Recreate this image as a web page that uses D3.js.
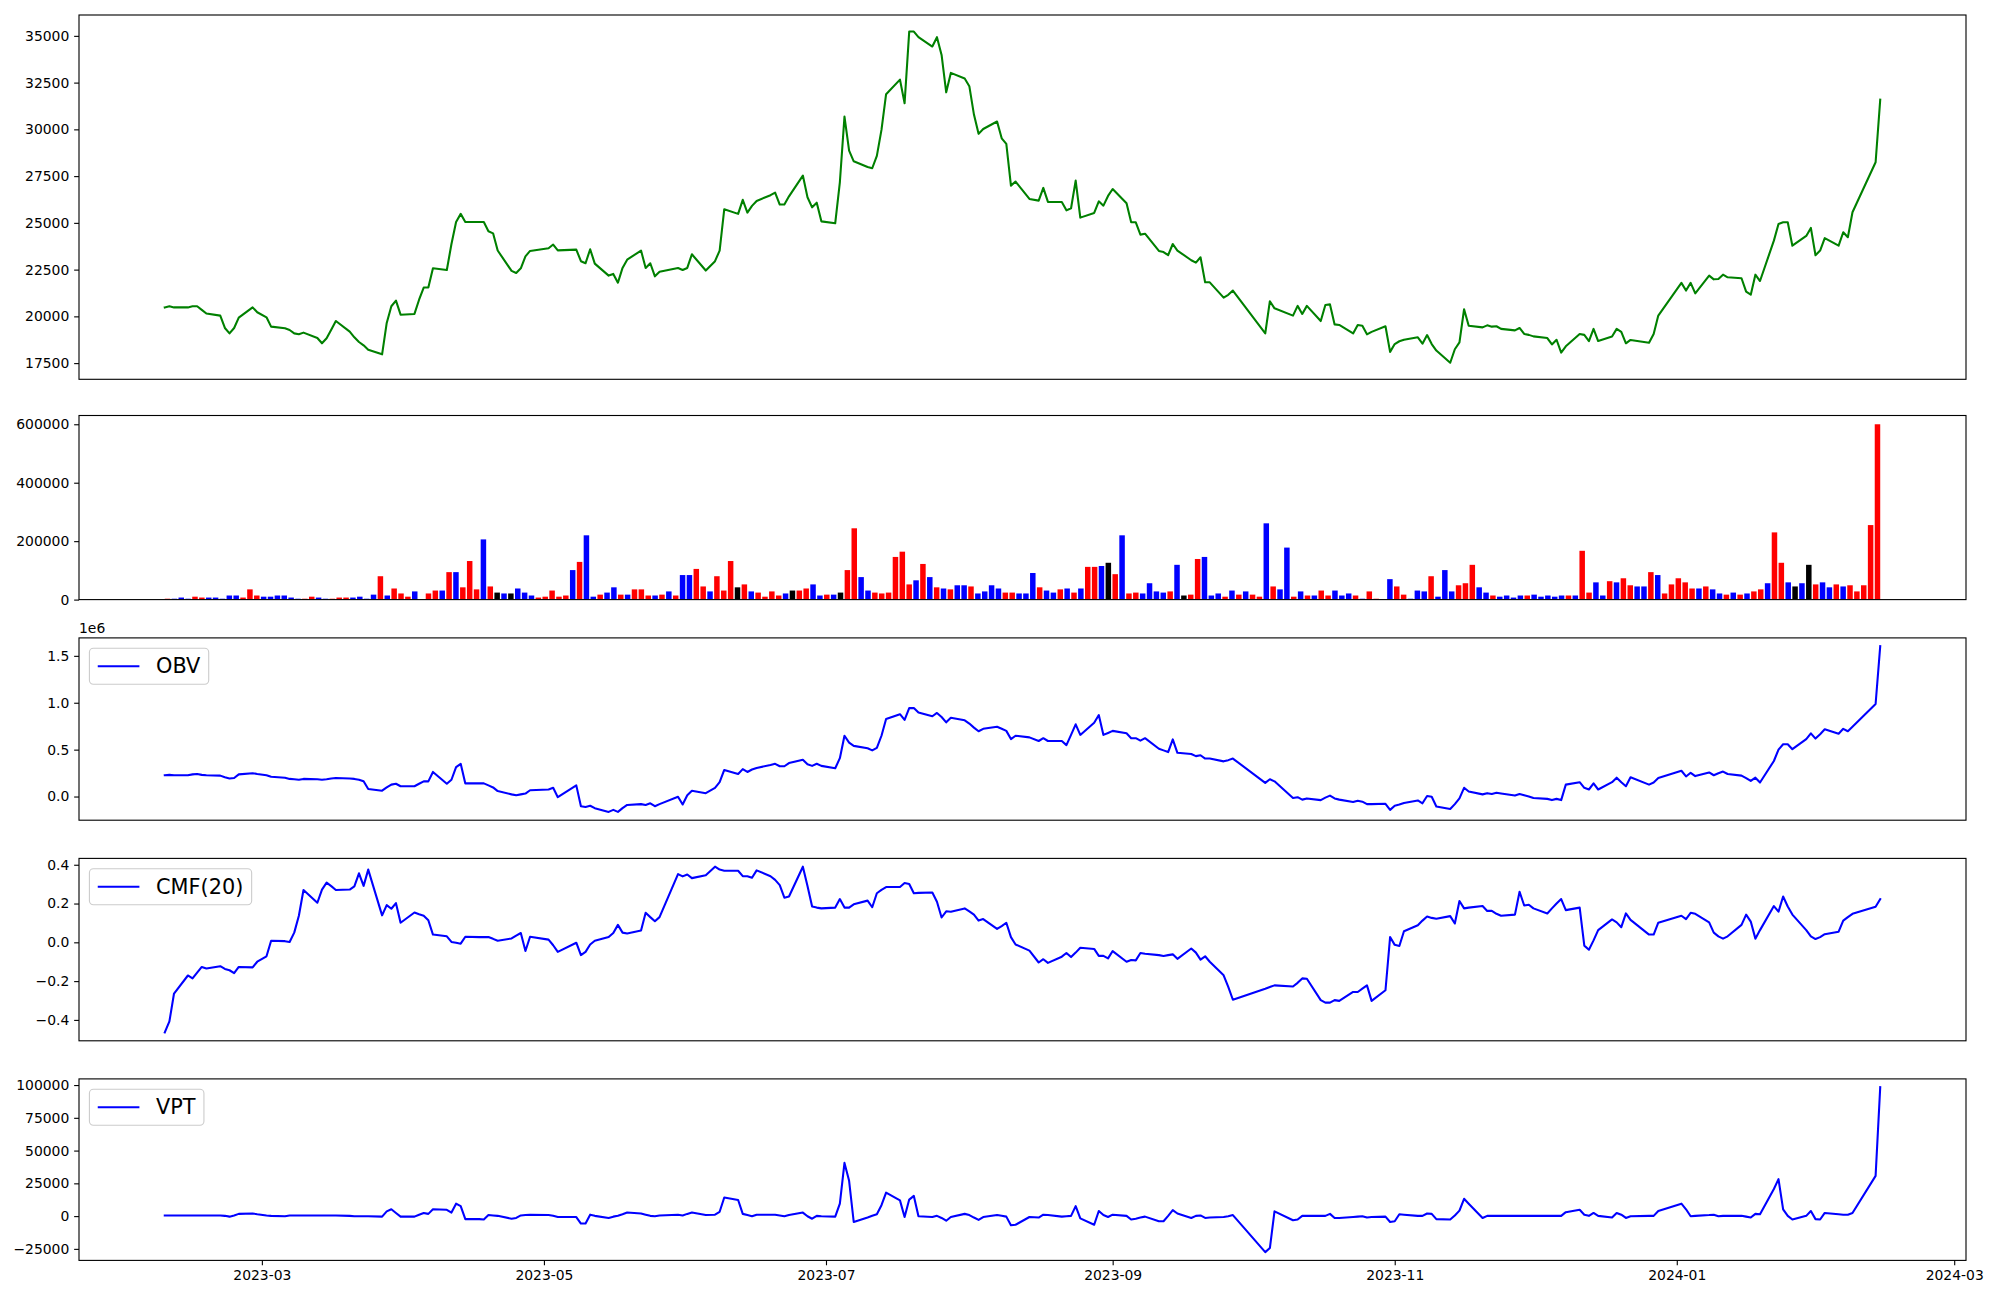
<!DOCTYPE html>
<html>
<head>
<meta charset="utf-8">
<script src="https://cdn.jsdelivr.net/npm/d3@7"></script>
<style>
  html, body { margin: 0; padding: 0; background: #ffffff; }
  svg { display: block; background: #ffffff; }
</style>
</head>
<body>
<svg id="chart" width="2000" height="1300"></svg>
<script>
// ---------------- data ----------------
const dates = [
"2023-02-08","2023-02-09","2023-02-10","2023-02-13","2023-02-14","2023-02-15","2023-02-16","2023-02-17","2023-02-20","2023-02-21","2023-02-22","2023-02-23","2023-02-24","2023-02-27","2023-02-28",
"2023-03-02","2023-03-03","2023-03-06","2023-03-07","2023-03-08","2023-03-09","2023-03-10","2023-03-13","2023-03-14","2023-03-15","2023-03-16","2023-03-17","2023-03-20","2023-03-21","2023-03-22","2023-03-23","2023-03-24","2023-03-27","2023-03-28","2023-03-29","2023-03-30","2023-03-31",
"2023-04-03","2023-04-04","2023-04-05","2023-04-06","2023-04-07","2023-04-10","2023-04-11","2023-04-12","2023-04-13","2023-04-14","2023-04-17","2023-04-18","2023-04-19","2023-04-20","2023-04-21","2023-04-24","2023-04-25","2023-04-26","2023-04-27","2023-04-28",
"2023-05-02","2023-05-03","2023-05-04","2023-05-08","2023-05-09","2023-05-10","2023-05-11","2023-05-12","2023-05-15","2023-05-16","2023-05-17","2023-05-18","2023-05-19","2023-05-22","2023-05-23","2023-05-24","2023-05-25","2023-05-26","2023-05-30","2023-05-31",
"2023-06-01","2023-06-02","2023-06-05","2023-06-07","2023-06-08","2023-06-09","2023-06-12","2023-06-13","2023-06-14","2023-06-15","2023-06-16","2023-06-19","2023-06-20","2023-06-21","2023-06-22","2023-06-23","2023-06-26","2023-06-27","2023-06-28","2023-06-29","2023-06-30",
"2023-07-03","2023-07-04","2023-07-05","2023-07-06","2023-07-07","2023-07-10","2023-07-11","2023-07-12","2023-07-13","2023-07-14","2023-07-17","2023-07-18","2023-07-19","2023-07-20","2023-07-21","2023-07-24","2023-07-25","2023-07-26","2023-07-27","2023-07-28","2023-07-31",
"2023-08-01","2023-08-02","2023-08-03","2023-08-04","2023-08-07","2023-08-08","2023-08-09","2023-08-10","2023-08-11","2023-08-14","2023-08-16","2023-08-17","2023-08-18","2023-08-21","2023-08-22","2023-08-23","2023-08-24","2023-08-25","2023-08-28","2023-08-29","2023-08-30","2023-08-31",
"2023-09-01","2023-09-04","2023-09-05","2023-09-06","2023-09-07","2023-09-08","2023-09-11","2023-09-12","2023-09-13","2023-09-14","2023-09-15","2023-09-18","2023-09-19","2023-09-20","2023-09-21","2023-09-22","2023-09-25","2023-09-26","2023-09-27",
"2023-10-04","2023-10-05","2023-10-06","2023-10-10","2023-10-11","2023-10-12","2023-10-13","2023-10-16","2023-10-17","2023-10-18","2023-10-19","2023-10-20","2023-10-23","2023-10-24","2023-10-25","2023-10-26","2023-10-27","2023-10-30","2023-10-31",
"2023-11-01","2023-11-02","2023-11-03","2023-11-06","2023-11-07","2023-11-08","2023-11-09","2023-11-10","2023-11-13","2023-11-14","2023-11-15","2023-11-16","2023-11-17","2023-11-20","2023-11-21","2023-11-22","2023-11-23","2023-11-24","2023-11-27","2023-11-28","2023-11-29","2023-11-30",
"2023-12-01","2023-12-04","2023-12-05","2023-12-06","2023-12-07","2023-12-08","2023-12-11","2023-12-12","2023-12-13","2023-12-14","2023-12-15","2023-12-18","2023-12-19","2023-12-20","2023-12-21","2023-12-22","2023-12-26","2023-12-27","2023-12-28",
"2024-01-02","2024-01-03","2024-01-04","2024-01-05","2024-01-08","2024-01-09","2024-01-10","2024-01-11","2024-01-12","2024-01-15","2024-01-16","2024-01-17","2024-01-18","2024-01-19","2024-01-22","2024-01-23","2024-01-24","2024-01-25","2024-01-26","2024-01-29","2024-01-30","2024-01-31",
"2024-02-01","2024-02-02","2024-02-05","2024-02-06","2024-02-07","2024-02-08","2024-02-13","2024-02-14"
];

const closePrice = [
20480,20540,20480,20480,20540,20540,20350,20150,20040,19380,19090,19380,19930,20480,20220,
19950,19450,19360,19270,19090,19040,19130,18840,18560,18830,19290,19750,19180,18880,18630,18450,18220,17970,19650,20540,20840,20090,
20130,20890,21540,21540,22570,22480,23870,25050,25480,25050,25050,25050,24550,24440,23520,22430,22320,22570,23210,23500,
23640,23840,23530,23570,22950,22840,23590,22820,22180,22270,21800,22590,23030,23520,22590,22840,22140,22390,22590,22480,
22590,23320,22450,22950,23520,25730,25480,26230,25550,25910,26170,26480,26620,25980,25980,26420,27530,26370,25830,26080,25080,
24980,27170,30680,28860,28290,27990,27920,28580,29970,31880,32660,31400,35230,35230,34930,34430,34930,33980,31980,33020,32720,
32310,30790,29760,30020,30420,29520,29220,26990,27210,26280,26190,26870,26120,26120,25670,25780,27260,25280,25530,26150,25920,26440,
26810,26050,25030,25030,24370,24420,23500,23440,23270,23870,23520,23000,22870,23160,21820,21820,21000,21150,21380,
19090,20810,20430,20040,20560,20130,20560,19750,20610,20640,19570,19540,19090,19540,19500,19040,19170,19470,18100,
18520,18670,18750,18880,18540,19000,18520,18170,17520,18240,18610,20380,19500,19410,19520,19450,19470,19330,19250,19380,19060,19010,
18930,18840,18500,18750,18060,18400,19060,19010,18680,19330,18680,18920,19330,19170,18560,18740,18590,19060,20040,
21790,21380,21790,21230,22180,21980,22000,22230,22090,22040,21320,21160,22230,21890,24050,24940,25030,25030,23780,24300,24730,23270,
23520,24180,23780,24500,24230,25570,28240,31590
];

const volume = [
3000,3000,7000,3000,10000,7000,7000,7000,3000,14000,14000,7000,35000,14000,10000,
10000,14000,14000,7000,3000,3000,10000,7000,3000,3000,7000,7000,7000,10000,3000,17000,80000,14000,38000,21000,10000,28000,
0,21000,31000,31000,94000,94000,42000,132000,35000,206000,45000,24000,21000,21000,38000,24000,14000,7000,10000,31000,
10000,14000,101000,129000,220000,10000,17000,24000,42000,17000,17000,35000,35000,14000,14000,17000,28000,14000,84000,84000,
105000,45000,28000,80000,31000,132000,42000,52000,28000,24000,10000,28000,14000,21000,31000,31000,38000,52000,14000,17000,17000,
24000,101000,244000,77000,31000,24000,21000,24000,146000,164000,52000,66000,122000,77000,42000,38000,35000,49000,49000,45000,21000,
28000,49000,38000,24000,24000,21000,21000,91000,42000,31000,24000,35000,38000,24000,38000,112000,112000,115000,126000,87000,220000,21000,
24000,21000,56000,28000,24000,28000,119000,14000,17000,139000,146000,14000,21000,10000,31000,17000,28000,17000,10000,
261000,45000,35000,178000,10000,28000,14000,14000,31000,14000,31000,14000,21000,14000,3000,28000,3000,0,70000,
45000,17000,3000,31000,28000,80000,10000,101000,28000,49000,56000,119000,42000,24000,14000,10000,14000,7000,14000,14000,17000,10000,
14000,10000,14000,14000,14000,167000,24000,59000,14000,63000,59000,73000,49000,45000,45000,94000,84000,21000,52000,
73000,59000,38000,38000,45000,35000,21000,17000,24000,17000,21000,28000,35000,56000,230000,126000,59000,45000,56000,119000,52000,59000,
42000,52000,45000,49000,28000,49000,255000,600000
];

// bar colour codes per month: r = red, b = blue, k = black
const volumeColorCodes = [
"rbbbrrbbbbbrrrb",
"bbbbbrrbbrrrbbbbrbrrrb",
"rrrbrbrrrbrkbkbbbrrr",
"rrbrbbrbbrbrrrbrbrbb",
"rrbrrrkrbrrrrbkrrbbrb",
"krrbbrrrrrrbrbrbrbbrb",
"bbbrrbbbrbbrbrbrrbkrbr",
"rbbbbrbkrrbbbrbrbrr",
"brbbrbrbrrbbbrbrrbb",
"rrbbbrbbbrrrbbrbbbbrbb",
"bbbrbrrbbrbrrbbrbrr",
"rrrbrbbrbrbrrbrrbkbkrb",
"brbrrrrr"
].join("");

const obvMillions = [
0.227,0.231,0.227,0.227,0.236,0.240,0.231,0.227,0.223,0.205,0.192,0.197,0.236,0.249,0.240,
0.227,0.210,0.201,0.188,0.184,0.179,0.188,0.184,0.179,0.184,0.192,0.197,0.192,0.188,0.179,0.162,0.080,0.062,0.097,0.127,0.136,0.110,
0.110,0.136,0.162,0.162,0.262,0.136,0.179,0.314,0.349,0.140,0.140,0.140,0.119,0.097,0.058,0.023,0.014,0.023,0.032,0.067,
0.075,0.093,-0.007,0.119,-0.103,-0.111,-0.098,-0.124,-0.164,-0.142,-0.164,-0.124,-0.090,-0.081,-0.090,-0.072,-0.103,-0.081,-0.003,-0.085,
0.014,0.062,0.036,0.093,0.153,0.283,0.240,0.292,0.262,0.288,0.305,0.336,0.349,0.323,0.323,0.357,0.392,0.344,0.327,0.349,0.327,
0.301,0.409,0.648,0.574,0.540,0.514,0.492,0.518,0.648,0.826,0.878,0.817,0.943,0.943,0.895,0.856,0.891,0.848,0.791,0.839,0.813,
0.778,0.735,0.696,0.722,0.744,0.722,0.700,0.613,0.648,0.631,0.592,0.622,0.592,0.592,0.548,0.657,0.770,0.657,0.787,0.869,0.657,0.678,
0.700,0.674,0.622,0.622,0.596,0.622,0.509,0.492,0.474,0.609,0.466,0.453,0.431,0.440,0.405,0.405,0.375,0.388,0.405,
0.145,0.184,0.162,-0.016,-0.007,-0.033,-0.020,-0.038,-0.012,0.010,-0.020,-0.033,-0.059,-0.046,-0.055,-0.081,-0.081,-0.077,-0.142,
-0.098,-0.085,-0.068,-0.042,-0.072,0.006,-0.003,-0.107,-0.133,-0.081,-0.020,0.093,0.053,0.023,0.036,0.027,0.040,0.032,0.010,0.027,0.014,0.001,
-0.016,-0.025,-0.038,-0.025,-0.038,0.127,0.153,0.093,0.075,0.140,0.075,0.153,0.201,0.153,0.110,0.205,0.127,0.149,0.197,
0.275,0.214,0.253,0.218,0.257,0.227,0.249,0.266,0.240,0.223,0.197,0.166,0.201,0.149,0.379,0.500,0.557,0.557,0.505,0.613,0.674,0.618,
0.665,0.717,0.670,0.722,0.696,0.743,0.987,1.603
];

const cmf20 = [
-0.465,-0.408,-0.264,-0.171,-0.186,-0.156,-0.127,-0.135,-0.123,-0.137,-0.144,-0.159,-0.127,-0.129,-0.100,
-0.072,0.008,0.006,0.002,0.050,0.137,0.270,0.204,0.272,0.308,0.290,0.270,0.272,0.289,0.356,0.291,0.375,0.139,0.192,0.173,0.202,0.101,
0.154,0.145,0.137,0.114,0.040,0.031,0.002,-0.002,-0.007,0.029,0.027,0.027,0.027,0.018,0.008,0.020,0.035,0.048,-0.045,0.029,
0.014,-0.015,-0.049,-0.002,-0.066,-0.049,-0.011,0.008,0.027,0.048,0.090,0.050,0.046,0.061,0.152,0.130,0.109,0.130,0.352,0.340,
0.350,0.331,0.346,0.390,0.375,0.369,0.369,0.341,0.341,0.333,0.371,0.341,0.322,0.295,0.230,0.236,0.390,0.290,0.185,0.179,0.175,
0.179,0.223,0.179,0.179,0.196,0.215,0.181,0.253,0.270,0.285,0.285,0.306,0.301,0.253,0.255,0.257,0.209,0.128,0.160,0.158,0.175,
0.160,0.143,0.112,0.120,0.069,0.084,0.101,0.027,-0.011,-0.043,-0.104,-0.087,-0.106,-0.074,-0.055,-0.076,-0.053,-0.028,-0.034,-0.070,-0.070,-0.083,
-0.045,-0.100,-0.091,-0.093,-0.055,-0.059,-0.066,-0.070,-0.066,-0.062,-0.085,-0.032,-0.053,-0.089,-0.072,-0.100,-0.170,-0.230,-0.296,
-0.239,-0.230,-0.222,-0.228,-0.209,-0.186,-0.188,-0.298,-0.311,-0.311,-0.298,-0.302,-0.256,-0.256,-0.239,-0.222,-0.302,-0.247,0.027,
-0.013,-0.019,0.057,0.088,0.112,0.133,0.126,0.122,0.135,0.097,0.213,0.175,0.179,0.187,0.162,0.162,0.147,0.137,0.143,0.261,0.190,0.194,
0.175,0.149,0.175,0.200,0.223,0.166,0.179,-0.017,-0.038,0.010,0.063,0.118,0.103,0.078,0.149,0.116,0.040,0.040,0.101,
0.137,0.120,0.152,0.147,0.103,0.050,0.031,0.019,0.031,0.090,0.143,0.107,0.019,0.063,0.187,0.158,0.236,0.185,0.143,0.063,0.031,0.017,
0.027,0.042,0.055,0.112,0.130,0.147,0.183,0.223
];

const vpt = [
500,500,500,500,500,500,500,500,500,200,-400,500,1700,2000,1400,
500,200,-100,500,500,500,500,500,500,500,500,500,200,-100,-100,-100,-100,-400,3600,5200,2400,-400,
-400,1100,2400,1700,5200,4800,2700,9500,7600,-2300,-2300,-2600,800,500,200,-2000,-1400,500,800,1100,
800,200,-700,-700,-5700,-5700,1100,200,-1400,-400,200,1400,2700,2000,1100,200,-100,500,1100,500,
1700,2700,800,1100,3300,14200,12300,1700,800,-100,1100,1100,1100,500,-100,800,2700,-100,-2000,200,-100,
-400,9500,40600,26900,-4500,-1100,200,1400,8300,17900,12000,-700,12600,15400,-100,-700,200,-1400,-3500,-700,1700,
800,-1100,-2900,-700,800,200,-400,-7000,-6600,-700,-1100,1100,800,-400,-100,200,7600,-1700,-6600,3900,800,-700,
1100,200,-2600,-2000,-1100,-400,-3900,-3900,200,4500,2000,-1400,200,500,-1400,-1100,-700,-100,800,
-27500,-24400,3600,-3200,-2600,200,200,200,200,1700,-1400,-1400,-700,-400,-100,-1100,-700,-400,-4500,
-3900,1400,1100,200,200,2000,1700,-2300,-2600,500,4200,13200,9500,-1400,200,200,200,200,200,200,200,200,
200,200,200,200,200,3000,4800,1100,200,2400,200,-1100,2400,1100,-1400,-100,200,200,3900,
9500,5200,-100,200,800,1100,-100,200,200,200,-400,-1100,1700,1400,20700,28200,5200,200,-2600,200,3900,-2300,
-2600,2400,1400,1100,1100,2400,30700,98400
];

const priceTicks = [17500, 20000, 22500, 25000, 27500, 30000, 32500, 35000];
const volumeTicks = [0, 200000, 400000, 600000];
const obvTicks = [0.0, 0.5, 1.0, 1.5];
const cmfTicks = [-0.4, -0.2, 0.0, 0.2, 0.4];
const vptTicks = [-25000, 0, 25000, 50000, 75000, 100000];
const legendLabels = ["OBV", "CMF(20)", "VPT"];

// ---------------- layout ----------------
const svg = d3.select("#chart");
const L = 79, R = 1966;
const panels = [
  { top: 15.0,   bottom: 379.3 },
  { top: 415.5,  bottom: 599.6 },
  { top: 637.9,  bottom: 820.2 },
  { top: 858.4,  bottom: 1040.8 },
  { top: 1078.9, bottom: 1260.4 }
];
const FONT = "'DejaVu Sans', 'Liberation Sans', sans-serif";
const tickLen = 4.86, tickPad = 4.86, tickFont = 13.9, spineW = 1.11, lineW = 2.08;
const minus = s => String(s).replace(/-/g, "\u2212");

svg.append("rect").attr("width", 2000).attr("height", 1300).attr("fill", "#ffffff");

const parse = d3.utcParse("%Y-%m-%d");
const t = dates.map(parse);
const span = t[t.length - 1] - t[0];
const x = d3.scaleUtc()
  .domain([new Date(+t[0] - 0.05 * span), new Date(+t[t.length - 1] + 0.05 * span)])
  .range([L, R]);

// the volume bars are placed by trading-day index (evenly spaced), width 0.8
const n = volume.length;
const barWidth = 0.8;
const idxSpan = (n - 1) + barWidth;
const xi = d3.scaleLinear()
  .domain([-barWidth / 2 - 0.05 * idxSpan, (n - 1) + barWidth / 2 + 0.05 * idxSpan])
  .range([L, R]);

function padded(vals, zeroBase) {
  const [a, b] = d3.extent(vals);
  if (zeroBase) return [0, b * 1.05];
  const r = b - a;
  return [a - 0.05 * r, b + 0.05 * r];
}

function makePanel(i, domain, ticks, fmt) {
  const p = panels[i];
  const y = d3.scaleLinear().domain(domain).range([p.bottom, p.top]);
  const clipId = "clip" + i;
  svg.append("clipPath").attr("id", clipId)
    .append("rect").attr("x", L).attr("y", p.top).attr("width", R - L).attr("height", p.bottom - p.top);
  const plot = svg.append("g").attr("clip-path", `url(#${clipId})`);
  const ax = svg.append("g").attr("transform", `translate(${L},0)`)
    .call(d3.axisLeft(y).tickValues(ticks).tickFormat(fmt).tickSize(tickLen).tickPadding(tickPad).tickSizeOuter(0));
  ax.select(".domain").remove();
  ax.selectAll(".tick line").attr("stroke", "#000").attr("stroke-width", spineW);
  ax.selectAll(".tick text").attr("font-size", tickFont).attr("font-family", FONT).attr("fill", "#000");
  return { p, y, plot };
}

function frame(panel) {
  svg.append("rect")
    .attr("x", L).attr("y", panel.p.top)
    .attr("width", R - L).attr("height", panel.p.bottom - panel.p.top)
    .attr("fill", "none").attr("stroke", "#000").attr("stroke-width", spineW);
}

function drawLine(panel, values, color) {
  const line = d3.line().x((d, i) => x(t[i])).y(d => panel.y(d));
  panel.plot.append("path").datum(values)
    .attr("d", line).attr("fill", "none").attr("stroke", color)
    .attr("stroke-width", lineW).attr("stroke-linejoin", "round").attr("stroke-linecap", "square");
}

function legend(panel, label) {
  const fs = 20.83, pad = 0.4 * fs, handle = 2.0 * fs, gap = 0.8 * fs, axPad = 0.5 * fs;
  const bx = L + axPad, by = panel.p.top + axPad, bh = 36;
  const g = svg.append("g");
  const box = g.append("rect").attr("x", bx).attr("y", by).attr("height", bh)
    .attr("rx", 4).attr("ry", 4)
    .attr("fill", "#ffffff").attr("fill-opacity", 0.8)
    .attr("stroke", "#cccccc").attr("stroke-width", spineW);
  g.append("line")
    .attr("x1", bx + pad).attr("x2", bx + pad + handle)
    .attr("y1", by + bh / 2).attr("y2", by + bh / 2)
    .attr("stroke", "#0000ff").attr("stroke-width", lineW);
  const txt = g.append("text")
    .attr("x", bx + pad + handle + gap).attr("y", by + bh / 2)
    .attr("dominant-baseline", "central")
    .attr("font-size", fs).attr("font-family", FONT).attr("fill", "#000")
    .text(label);
  const tw = txt.node().getComputedTextLength();
  box.attr("width", pad + handle + gap + tw + pad);
}

// ---------------- panel 1: price ----------------
const p1 = makePanel(0, padded(closePrice), priceTicks, d => String(d));
drawLine(p1, closePrice, "#008000");
frame(p1);

// ---------------- panel 2: volume bars ----------------
const p2 = makePanel(1, padded(volume, true), volumeTicks, d => String(d));
const colorMap = { r: "#ff0000", b: "#0000ff", k: "#000000" };
const bw = xi(barWidth) - xi(0);
p2.plot.selectAll("rect.bar").data(volume).enter().append("rect")
  .attr("class", "bar")
  .attr("x", (v, i) => xi(i - barWidth / 2))
  .attr("width", bw)
  .attr("y", v => p2.y(v))
  .attr("height", v => p2.y(0) - p2.y(v))
  .attr("fill", (v, i) => colorMap[volumeColorCodes[i]]);
frame(p2);

// ---------------- panel 3: OBV ----------------
const p3 = makePanel(2, padded(obvMillions), obvTicks, d => d3.format(".1f")(d));
drawLine(p3, obvMillions, "#0000ff");
frame(p3);
svg.append("text").attr("x", L).attr("y", p3.p.top - 5)
  .attr("font-size", tickFont).attr("font-family", FONT).attr("fill", "#000").text("1e6");
legend(p3, legendLabels[0]);

// ---------------- panel 4: CMF ----------------
const p4 = makePanel(3, padded(cmf20), cmfTicks, d => minus(d3.format(".1f")(d)));
drawLine(p4, cmf20, "#0000ff");
frame(p4);
legend(p4, legendLabels[1]);

// ---------------- panel 5: VPT ----------------
const p5 = makePanel(4, padded(vpt), vptTicks, d => minus(String(d)));
drawLine(p5, vpt, "#0000ff");
frame(p5);
legend(p5, legendLabels[2]);

// bottom date axis
const xAx = svg.append("g").attr("transform", `translate(0,${panels[4].bottom})`)
  .call(d3.axisBottom(x).ticks(d3.utcMonth.every(2)).tickFormat(d3.utcFormat("%Y-%m"))
    .tickSize(tickLen).tickPadding(tickPad).tickSizeOuter(0));
xAx.select(".domain").remove();
xAx.selectAll(".tick line").attr("stroke", "#000").attr("stroke-width", spineW);
xAx.selectAll(".tick text").attr("font-size", tickFont).attr("font-family", FONT).attr("fill", "#000");
</script>
</body>
</html>
